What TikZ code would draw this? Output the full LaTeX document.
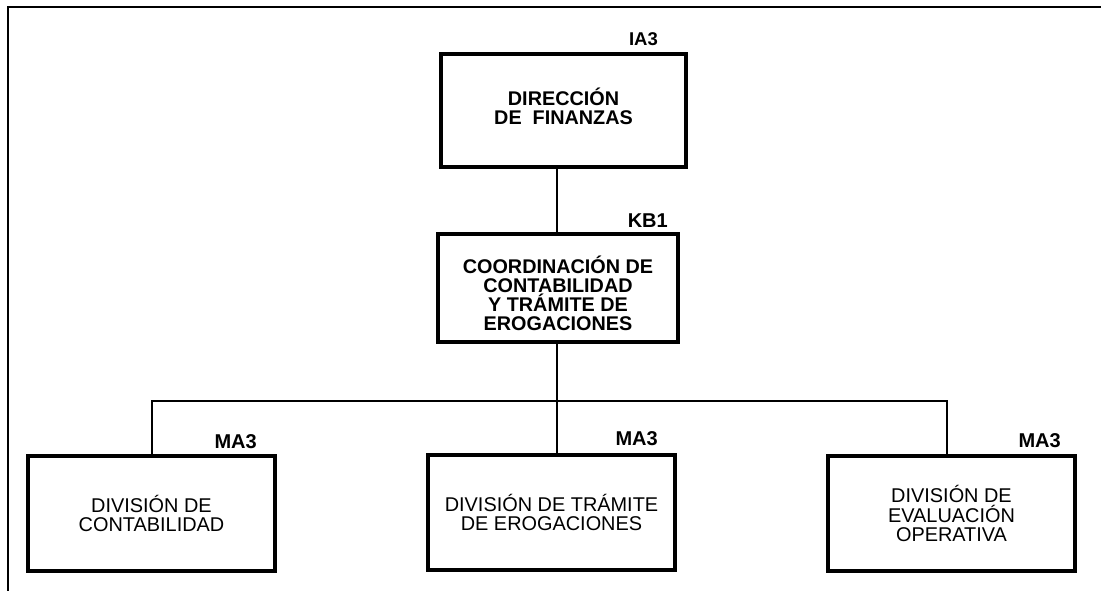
\documentclass[tikz,border=0pt]{standalone}
\usepackage{fontspec}
\setmainfont{Liberation Sans}
\usetikzlibrary{calc}

\begin{document}
\begin{tikzpicture}[x=1pt, y=-1pt,
    unitbox/.style={draw, line width=3.2pt, inner sep=0pt, align=center,
        font=\bfseries\fontsize{19.8}{19}\selectfont},
    divbox/.style={draw, line width=3.2pt, inner sep=0pt, align=center,
        minimum width=247pt, minimum height=115pt,
        font=\fontsize{19.9}{19.5}\selectfont},
    keylabel/.style={anchor=base east, inner sep=0pt,
        font=\bfseries\fontsize{20}{20}\selectfont},
    link/.style={line width=2pt}]
    \useasboundingbox (0,0) rectangle (1101,591);

    % Page frame
    \draw[line width=2.5pt] (8,591) -- (8,7) -- (1101,7);

    % Head units
    \node[unitbox, minimum width=245pt, minimum height=113pt, text depth=8pt] (dirfin) at (563.5,110.5)
        {DIRECCIÓN\\DE~~FINANZAS};
    \node[keylabel, font=\bfseries\fontsize{18.5}{18.5}\selectfont] (keyia) at (658,46) {IA3};

    \node[unitbox, minimum width=240pt, minimum height=108pt, text height=84pt, text depth=0pt] (coordcont) at (558,288)
        {COORDINACIÓN DE\\CONTABILIDAD\\Y TRÁMITE DE\\EROGACIONES};
    \node[keylabel] (keykb) at (668,227) {KB1};

    % Divisions
    \node[divbox] (divcont) at (151.5,513.5) {DIVISIÓN DE\\CONTABILIDAD};
    \node[keylabel] (keymaa) at (257,448) {MA3};

    \node[divbox] (divtram) at (551.5,512.5) {DIVISIÓN DE TRÁMITE\\DE EROGACIONES};
    \node[keylabel] (keymab) at (658,445) {MA3};

    \node[divbox] (diveval) at (951.5,513.5) {DIVISIÓN DE\\EVALUACIÓN\\OPERATIVA};
    \node[keylabel] (keymac) at (1061,447) {MA3};

    % Connectors
    \coordinate (bus) at (557,401);
    \draw[link] (dirfin.south -| bus) -- (coordcont.north -| bus);
    \draw[link] (coordcont.south -| bus) -- (divtram.north -| bus);
    \draw[link] (divcont.north) |- (bus) -| ([xshift=-4.5pt]diveval.north);
\end{tikzpicture}
\end{document}
